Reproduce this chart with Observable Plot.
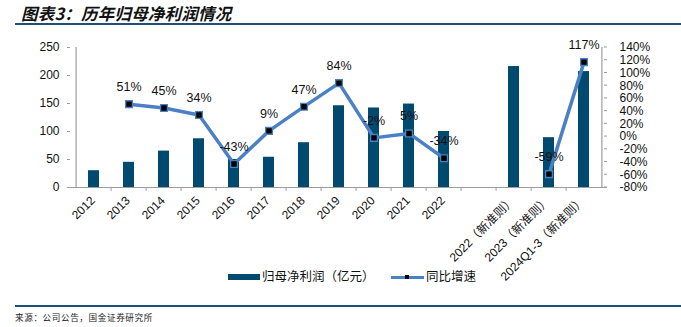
<!DOCTYPE html>
<html>
<head>
<meta charset="utf-8">
<script src="https://cdn.jsdelivr.net/npm/d3@7"></script>
<script src="https://cdn.jsdelivr.net/npm/@observablehq/plot@0.6"></script>
<style>
  html, body { margin: 0; padding: 0; background: #fff; }
  body { width: 681px; height: 327px; position: relative; overflow: hidden;
         font-family: "Liberation Sans", Arial, "Noto Sans CJK SC", sans-serif; color: #111; }
  #chart { position: absolute; left: 0; top: 0; }
  .title { position: absolute; left: 21px; top: 1px; font-size: 16.5px; font-weight: bold; font-style: italic;
           font-family: "Noto Sans CJK SC", sans-serif; color: #111; letter-spacing: 0.2px; white-space: nowrap; }
  .rule { position: absolute; left: 15px; right: 0; height: 1.5px; background: #1f4e79; }
  .legend { position: absolute; top: 269px; font-size: 12.5px; white-space: nowrap; line-height: 16px; }
  .legend span { position: absolute; top: 0; }
  .swatch-bar { position: absolute; width: 32px; height: 6px; top: 5px; }
  .swatch-line { position: absolute; width: 33px; height: 3px; top: 6.5px; }
  .swatch-mark { position: absolute; width: 4px; height: 4px; top: 6px; background: #000; }
  .footer { position: absolute; left: 15px; top: 311px; font-size: 8.6px; color: #222; letter-spacing: 0.6px;
            font-family: "Noto Sans CJK SC", serif; white-space: nowrap; }
</style>
</head>
<body>
<div class="title">图表3：历年归母净利润情况</div>
<div class="rule" style="top:23px"></div>
<div id="chart"></div>
<div class="rule" style="top:305px"></div>
<div class="footer">来源：公司公告，国金证券研究所</div>
<script>
// ---- data ----
const categories = ["2012","2013","2014","2015","2016","2017","2018","2019","2020","2021","2022"," ","2022（新准则）","2023（新准则）","2024Q1-3（新准则）"];
const profit = [30, 45, 65, 87, 50, 54, 80, 146, 142, 149, 100, null, 216, 89, 207];
const growth = [null, 51, 45, 34, -43, 9, 47, 84, -2, 5, -34, null, null, -59, 117];
const leftTicks = [0, 50, 100, 150, 200, 250];
const rightTicks = [-80, -60, -40, -20, 0, 20, 40, 60, 80, 100, 120, 140];
const seriesNames = ["归母净利润（亿元）", "同比增速"];

const barColor = "#004a70";
const lineColor = "#4a80c4";
const axisColor = "#9c9c9c";

// map right axis (%) onto left axis domain
const L = [0, 250], R = [-80, 140];
const toLeft = p => (p - R[0]) / (R[1] - R[0]) * (L[1] - L[0]) + L[0];
const fromLeft = v => (v - L[0]) / (L[1] - L[0]) * (R[1] - R[0]) + R[0];

const rows = categories.map((c, i) => ({cat: c, profit: profit[i], growth: growth[i]}));
const barRows = rows.filter(d => d.profit != null);
const gRows = rows.filter(d => d.growth != null);

const W = 681, H = 327, mL = 70, mR = 74, mT = 47, mB = 140;
const step = (W - mL - mR) / categories.length;

const chart = Plot.plot({
  width: W, height: H,
  marginLeft: mL, marginRight: mR, marginTop: mT, marginBottom: mB,
  style: {fontFamily: '"Liberation Sans", Arial, "Noto Sans CJK SC", sans-serif', fontSize: "12px", color: "#111", background: "transparent"},
  x: {type: "band", domain: categories, padding: 0, axis: null},
  y: {domain: L, axis: null},
  marks: [
    Plot.barY(barRows, {x: "cat", y: "profit", fill: barColor, insetLeft: 12, insetRight: 12}),
    // axis lines
    Plot.ruleY([0], {stroke: axisColor, strokeWidth: 1.2}),
    Plot.ruleX([categories[0]], {x: d => d, y1: 0, y2: 250, dx: -step / 2, stroke: axisColor, strokeWidth: 1.2}),
    Plot.ruleX([categories[categories.length - 1]], {x: d => d, y1: 0, y2: 250, dx: step / 2, stroke: axisColor, strokeWidth: 1.2}),
    // boundary ticks on x axis
    Plot.ruleX(categories.slice(1), {x: d => d, y1: 0, y2: -7, dx: -step / 2, stroke: axisColor}),
    // left axis
    Plot.axisY({anchor: "left", label: null, ticks: leftTicks, tickSize: 3, tickPadding: 8, stroke: axisColor, fontSize: 12, tickFormat: d => d}),
    // right axis (tick marks added below, pointing inward)
    Plot.axisY({anchor: "right", label: null, ticks: rightTicks.map(toLeft), tickSize: 0, tickPadding: 12, fontSize: 12,
                tickFormat: v => Math.round(fromLeft(v)) + "%"}),
    // x labels
    Plot.text(categories, {x: d => d, frameAnchor: "bottom", text: d => d.trim(), rotate: -45, textAnchor: "end",
                           lineAnchor: "middle", dy: 11, dx: -1, fontSize: 12}),
    // growth line
    Plot.line(rows, {x: "cat", y: d => d.growth == null ? NaN : toLeft(d.growth), stroke: lineColor, strokeWidth: 3.5}),
    Plot.dot(gRows, {x: "cat", y: d => toLeft(d.growth), symbol: "square", r: 3.8, fill: "#000", stroke: lineColor, strokeWidth: 1.3}),
    Plot.text(gRows, {x: "cat", y: d => toLeft(d.growth), text: d => d.growth + "%", dy: -17, fontSize: 12.5, fill: "#111"})
  ]
});
document.getElementById("chart").appendChild(chart);

// right-axis inward tick marks (drawn with the chart's y scale)
{
  const ys = chart.scale("y");
  const sy = d3.scaleLinear().domain(ys.domain).range(ys.range);
  const svg = d3.select(chart.tagName === "svg" ? chart : chart.querySelector("svg"));
  const xr = W - mR;
  svg.append("g").attr("stroke", axisColor)
    .selectAll("line").data(rightTicks.map(toLeft)).join("line")
    .attr("x1", xr - 3).attr("x2", xr).attr("y1", d => sy(d)).attr("y2", d => sy(d));
}

// legend
const lg = document.createElement("div");
lg.className = "legend";
lg.style.left = "0px";
lg.innerHTML =
  `<div class="swatch-bar" style="left:228px;background:${barColor}"></div>` +
  `<span style="left:262px">${seriesNames[0]}</span>` +
  `<div class="swatch-line" style="left:391px;background:${lineColor}"></div>` +
  `<div class="swatch-mark" style="left:405px"></div>` +
  `<span style="left:426px">${seriesNames[1]}</span>`;
document.body.appendChild(lg);
</script>
</body>
</html>
